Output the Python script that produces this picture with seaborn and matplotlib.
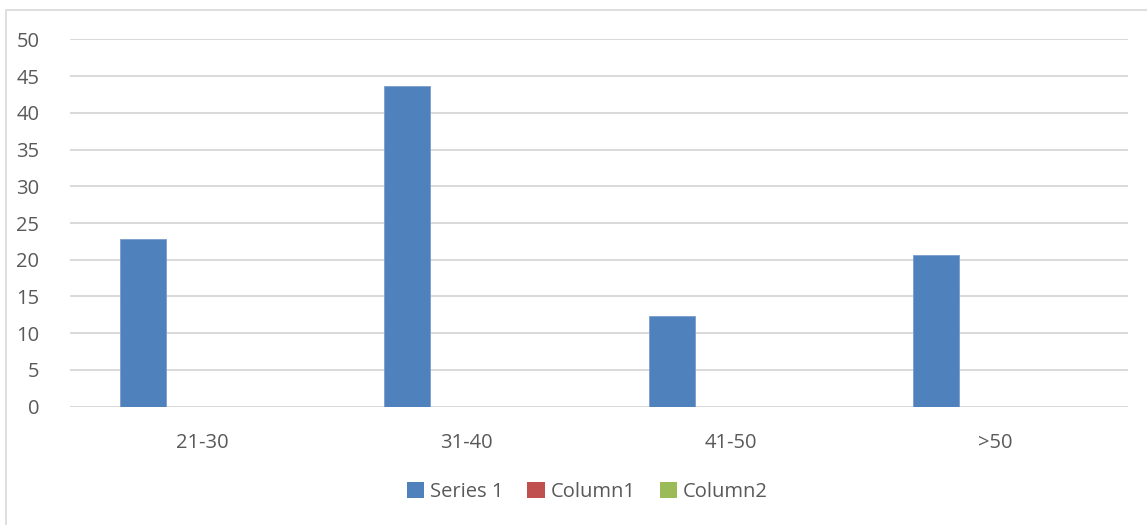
import numpy as np
import pandas as pd
import seaborn as sns
import matplotlib.pyplot as plt
from matplotlib.patches import Patch, Rectangle

# dados
faixas = ["21-30", "31-40", "41-50", ">50"]
series_1 = [22.8, 43.7, 12.4, 20.7]
column1 = [np.nan, np.nan, np.nan, np.nan]
column2 = [np.nan, np.nan, np.nan, np.nan]
series_names = ["Series 1", "Column1", "Column2"]
y_ticks = [0, 5, 10, 15, 20, 25, 30, 35, 40, 45, 50]

cores = {"Series 1": "#4f81bd", "Column1": "#c0504d", "Column2": "#9bbb59"}
cinza = "#595959"

df = pd.DataFrame({"Faixa": faixas, "Series 1": series_1,
                   "Column1": column1, "Column2": column2})
df_melted = df.melt(id_vars="Faixa", var_name="Serie", value_name="Valor")

sns.set_style("white")
plt.rcParams["font.family"] = ["Open Sans", "DejaVu Sans"]

fig = plt.figure(figsize=(11.47, 5.25), dpi=100)
ax = fig.add_axes([0.061, 0.2253, 0.9223, 0.6998])

sns.barplot(data=df_melted, x="Faixa", y="Valor", hue="Serie",
            hue_order=series_names, order=faixas, palette=cores,
            saturation=1, width=0.674, gap=0.227, errorbar=None,
            legend=False, ax=ax, edgecolor="#7a9ccc", linewidth=0.6)

ax.set_ylim(0, 50)
ax.set_xlim(-0.5, len(faixas) - 0.5)
ax.set_yticks(y_ticks)
ax.yaxis.grid(True, color="#d9d9d9", linewidth=1.4)
ax.set_axisbelow(True)
for s in ax.spines.values():
    s.set_visible(False)
ax.axhline(0, color="#d9d9d9", linewidth=1.4, zorder=0.5)
ax.tick_params(axis="both", length=0, labelsize=14.5, labelcolor=cinza)
ax.tick_params(axis="y", pad=22)
ax.tick_params(axis="x", pad=19)
ax.set_xlabel("")
ax.set_ylabel("")

handles = [Patch(facecolor=cores[n], edgecolor="none") for n in series_names]
fig.legend(handles, series_names, loc="center", bbox_to_anchor=(0.512, 0.063),
           ncol=3, frameon=False, fontsize=14.5, labelcolor=cinza,
           handlelength=0.85, handleheight=0.85, handletextpad=0.3,
           columnspacing=1.2)

# moldura do gráfico
fig.patches.append(Rectangle((0.0055, -0.1), 1.1, 1.081, transform=fig.transFigure,
                             fill=False, edgecolor="#d9d9d9", linewidth=1.2))

fig.savefig("out.png", dpi=100)
